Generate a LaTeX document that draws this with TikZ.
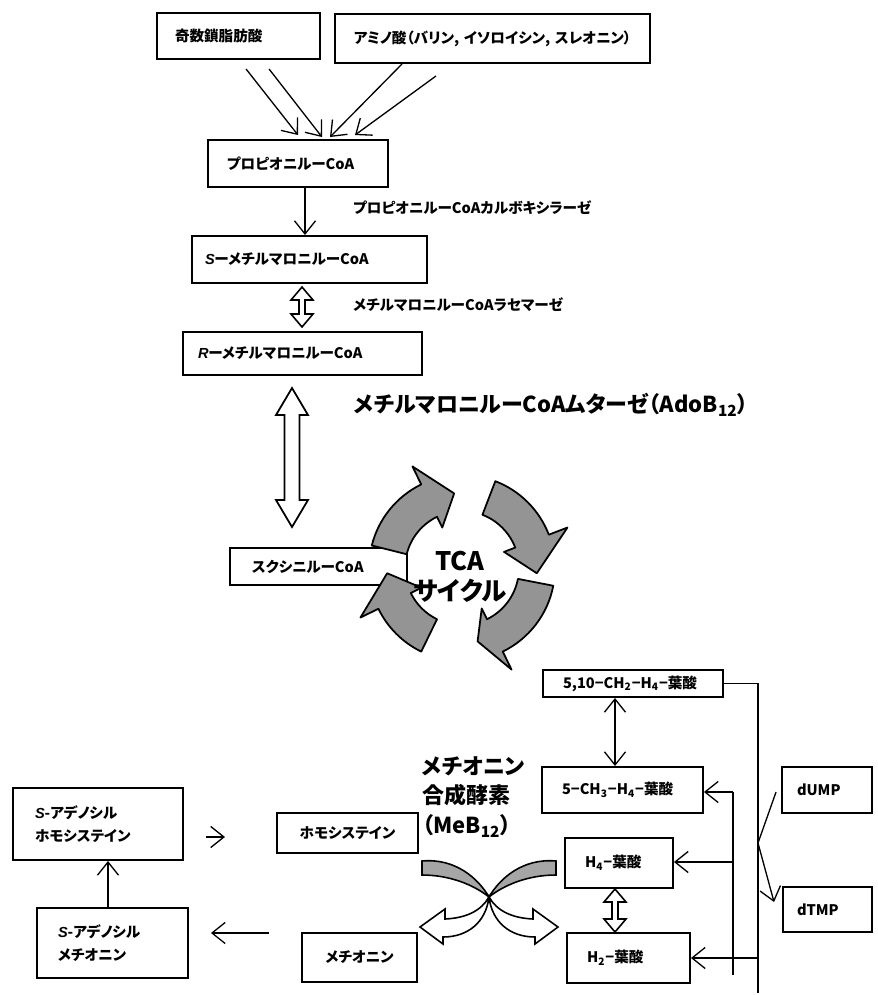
\documentclass[tikz,border=0pt]{standalone}
\usepackage{fontspec}
\setmainfont{Noto Sans CJK JP}[RawFeature=+palt]
\newfontfamily\lat{Liberation Sans}
\usetikzlibrary{arrows.meta,calc}

\newlength\px \setlength\px{0.02cm}
\newcommand\sit[1]{{\lat\itshape #1}}
\newcommand\boxfont{\fontsize{8.3}{13}\selectfont\bfseries}
\newcommand\bigfont{\fontsize{12.5}{17}\selectfont\bfseries}
\newcommand\tcafont{\fontsize{14.5}{17}\selectfont\bfseries}

\tikzset{
  every node/.style={font=\boxfont, text=black},
  bx/.style n args={3}{draw, line width=1.1pt, text width=#1\px, minimum height=#2\px,
    inner xsep=#3\px, inner ysep=0pt, align=left},
  arr/.style={line width=0.75pt, -{Straight Barb[length=7.5pt,width=12pt]}},
  darr/.style={line width=0.75pt, {Straight Barb[length=7.5pt,width=12pt]}-{Straight Barb[length=7.5pt,width=12pt]}},
  rail/.style={line width=1pt},
  hollow/.style={line width=0.9pt, fill=white, line join=miter},
  tcaarr/.style={line width=1pt, fill=black!42, draw=black, line join=round},
  msgray/.style={line width=0.9pt, fill=black!35, draw=black},
  mswhite/.style={line width=0.9pt, fill=white, draw=black},
}

% thin hollow double-headed arrow: x, top y, length (pixel units, y downwards)
\newcommand\thindbl[3]{%
  \draw[hollow, shift={(#1,-#2)}] (0,0) -- (11,-13) -- (3,-13) -- (3,{-#3+13})
    -- (11,{-#3+13}) -- (0,-#3) -- (-11,{-#3+13}) -- (-3,{-#3+13}) -- (-3,-13)
    -- (-11,-13) -- cycle;}

% one curved block arrow of the TCA cycle: tail angle, head base angle, tip angle
\newcommand\tcaarrow[3]{%
  \filldraw[tcaarr] (#1:57) -- (#1:93) arc[start angle=#1, end angle=#2, radius=93]
    -- (#2:113) -- (#3:75) -- (#2:45) -- (#2:57)
    arc[start angle=#2, end angle=#1, radius=57] -- cycle;}

\begin{document}
\begin{tikzpicture}[x=0.02cm, y=0.02cm]
\fill[white] (0,0) rectangle (877,-995);
\useasboundingbox (0,0) rectangle (877,-995);

% --- propionate pathway -------------------------------------------------
\node[bx={127}{46}{18}] (odd) at (238.5,-36) {奇数鎖脂肪酸};
\node[bx={285}{49}{15}, align=center] (amino) at (492.5,-38.5) {アミノ酸（バリン, イソロイシン, スレオニン）};
\node[bx={142}{47}{19}] (prop) at (298,-163.5) {プロピオニルーCoA};
\node[bx={209}{47}{13}] (smm) at (309.5,-259.5) {\sit{S}ーメチルマロニルーCoA};
\node[bx={209}{43}{15}] (rmm) at (302.5,-353.5) {\sit{R}ーメチルマロニルーCoA};
\node[bx={133}{37}{22}] (succ) at (318.5,-566.5) {スクシニルーCoA};

\draw[arr] ($(odd.south west)+(90,-9)$) -- ($(prop.north)+(0,4)$);
\draw[arr] ($(odd.south west)+(113,-9)$) -- ($(prop.north)+(24,2)$);
\draw[arr] ($(amino.south west)+(68,0)$) -- ($(prop.north)+(32,2)$);
\draw[arr] ($(amino.south west)+(102,-12)$) -- ($(prop.north)+(57,4)$);

\draw[arr] ($(prop.south)+(7,0)$) -- ($(smm.north)+(-4.5,0)$);
\node[anchor=west] (carbox) at (347,-208) {プロピオニルーCoAカルボキシラーゼ};

\thindbl{302}{287}{40}
\node[anchor=west] (racem) at (347,-305) {メチルマロニルーCoAラセマーゼ};

\node[anchor=west, font=\bigfont] (mutase) at (348,-405) {メチルマロニルーCoAムターゼ（AdoB\textsubscript{12}）};

% wide hollow double arrow to succinyl-CoA
\draw[hollow, line width=1pt] (292,-388) -- (308,-415) -- (299.5,-415) -- (299.5,-500)
  -- (308,-500) -- (292,-527) -- (276,-500) -- (284.5,-500) -- (284.5,-415)
  -- (276,-415) -- cycle;

% --- TCA cycle ------------------------------------------------------------
\begin{scope}[shift={(462,-568)}]
  \tcaarrow{166}{116}{96}
  \tcaarrow{69}{21}{-4}
  \tcaarrow{-11}{-64}{-78}
  \tcaarrow{-116}{-154}{-176}
\end{scope}
\node[font=\tcafont, align=center] (tca) at (460,-577) {TCA\\サイクル};

% --- folate side ----------------------------------------------------------
\node[bx={140}{27}{20}] (f510) at (633,-683.5) {5,10−CH\textsubscript{2}−H\textsubscript{4}−葉酸};
\node[bx={121}{46}{20}] (m5) at (622.5,-790) {5−CH\textsubscript{3}−H\textsubscript{4}−葉酸};
\node[bx={68}{50}{20}] (h4) at (619,-863) {H\textsubscript{4}−葉酸};
\node[bx={83}{50}{20}] (h2) at (628.5,-958) {H\textsubscript{2}−葉酸};
\node[bx={60}{46}{15}] (dump) at (827,-790) {dUMP};
\node[bx={61}{45}{14}] (dtmp) at (827.5,-909.5) {dTMP};

\draw[darr] ($(f510.south)+(-18,0)$) -- ($(m5.north)+(-7.5,0)$);
\thindbl{615}{889}{43}

\coordinate (vbot) at (758,-993);
\coordinate (vj) at (758,-843);
\coordinate (v2) at (758,-958);
\draw[rail] (f510.east) -| (vbot);
\draw[arr] (v2) -- (v2 -| h2.east);

\coordinate (wtop) at (733,-792);
\coordinate (w4) at (733,-862);
\coordinate (wbot) at (733,-975);
\draw[rail] (wtop) -- (wbot);
\draw[arr] (wtop) -- (wtop -| m5.east);
\draw[arr] (w4) -- (w4 -| h4.east);

\draw[arr] ($(dump.west)+(-5,-2)$) -- (vj) -- ($(dtmp.north west)+(-8,-16)$);

% --- methionine cycle -----------------------------------------------------
\node[bx={126}{72}{22}] (sah) at (98,-824) {\sit{S}-アデノシル\\ホモシステイン};
\node[bx={109}{70}{21}] (sam) at (112.5,-943) {\sit{S}-アデノシル\\メチオニン};
\node[bx={121}{40}{10}, align=center] (hcy) at (347.5,-833) {ホモシステイン};
\node[bx={95}{49}{10}, align=center] (met) at (359.5,-957.5) {メチオニン};

\draw[arr] ($(sah.east)+(22,-13)$) -- ++(19,0);
\draw[arr] ($(sam.north)+(-4.5,0)$) -- ($(sah.south)+(10,0)$);
\draw[arr] ($(met.west)+(-32,24.5)$) -- ($(sam.east)+(22,10)$);

\node[anchor=west, font=\bigfont, align=left] (msyn) at (416,-797)
  {メチオニン\\合成酵素\\（MeB\textsubscript{12}）};

% crossing arrows of methionine synthase
\filldraw[msgray] (422,-861) .. controls (455,-858) and (478,-878) .. (489,-897)
  .. controls (474,-885) and (450,-875) .. (422,-875) -- cycle;
\filldraw[msgray] (556,-861) .. controls (523,-858) and (500,-878) .. (489,-897)
  .. controls (504,-885) and (528,-875) .. (556,-875) -- cycle;
\filldraw[mswhite] (489,-897) .. controls (497,-911) and (512,-918) .. (533,-919)
  -- (533,-909) -- (558,-927) -- (535,-944) -- (535,-937)
  .. controls (510,-937) and (492,-922) .. (489,-897) -- cycle;
\filldraw[mswhite] (489,-897) .. controls (481,-911) and (466,-918) .. (445,-919)
  -- (445,-909) -- (420,-927) -- (443,-944) -- (443,-937)
  .. controls (468,-937) and (486,-922) .. (489,-897) -- cycle;
\end{tikzpicture}
\end{document}
